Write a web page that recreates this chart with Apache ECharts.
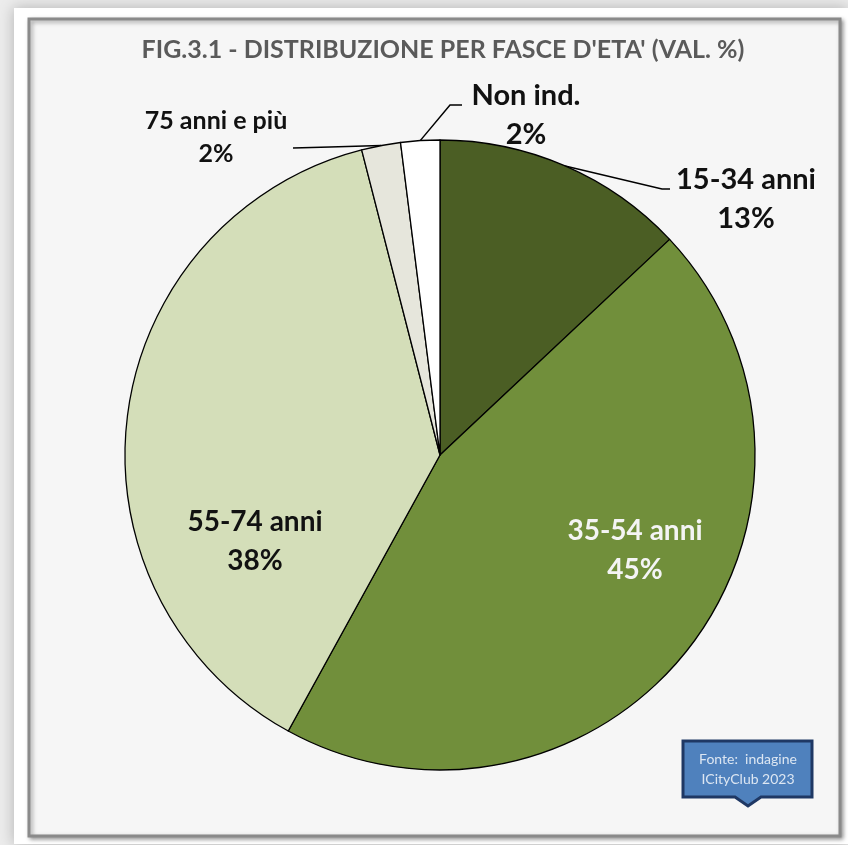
<!DOCTYPE html>
<html>
<head>
<meta charset="utf-8">
<script src="https://cdn.jsdelivr.net/npm/echarts@6/dist/echarts.min.js"></script>
<style>
html,body{margin:0;padding:0;background:#ececec;}
#chart{width:848px;height:845px;}
</style>
</head>
<body>
<div id="chart"></div>
<script>
// ---- data ----
const titleText = "FIG.3.1 - DISTRIBUZIONE PER FASCE D'ETA' (VAL. %)";
const categories = ['15-34 anni', '35-54 anni', '55-74 anni', '75 anni e più', 'Non ind.'];
const shares = [13, 45, 38, 2, 2];
const sourceLines = ['Fonte:  indagine', 'ICityClub 2023'];

// ---- styles / layout ----
const sliceColors = ['#4b5e24', '#718f3b', '#d4deb9', '#e6e6dc', '#ffffff'];
const CX = 440, CY = 455, R = 315;
const FONT = 'Lato, "Open Sans", sans-serif';
// label block centres & leader-line bends, as offsets from pie centre
const labelSpots = [
  { x: 306, y: -256, line: [[222, -266], [230, -266]], color: '#111', size: 29, lh: 39 },
  { x: 195, y: 95, line: null, color: '#f4f4f4', size: 28, lh: 39 },
  { x: -185, y: 86, line: null, color: '#111', size: 28, lh: 39 },
  { x: -224, y: -318, line: [[-110, -308], [-147, -307]], color: '#111', size: 25, lh: 33 },
  { x: 86, y: -340, line: [[10, -350], [22, -350]], color: '#111', size: 29, lh: 39 }
];

const total = shares.reduce((a, b) => a + b, 0);
function midEdge(i) {
  let cum = 0;
  for (let k = 0; k < i; k++) cum += shares[k];
  const a = (cum + shares[i] / 2) / total * 2 * Math.PI;
  return [CX + R * Math.sin(a), CY - R * Math.cos(a)];
}

const chart = echarts.init(document.getElementById('chart'));
const seriesData = categories.map((name, i) => ({
  name: name,
  value: shares[i],
  itemStyle: { color: sliceColors[i] },
  label: {
    position: labelSpots[i].line ? 'outside' : 'inside',
    color: labelSpots[i].color,
    fontSize: labelSpots[i].size,
    lineHeight: labelSpots[i].lh
  },
  labelLine: { show: !!labelSpots[i].line }
}));

const option = {
  backgroundColor: '#ececec',
  animation: false,
  graphic: [
    { type: 'rect', z: -10, shape: { x: 14, y: 8, width: 834, height: 836 },
      style: { fill: '#ffffff', shadowBlur: 14, shadowColor: 'rgba(0,0,0,0.25)' } },
    { type: 'rect', z: -9, shape: { x: 29, y: 19, width: 811, height: 817 },
      style: { fill: '#f6f6f6', stroke: '#8a8a8a', lineWidth: 3, shadowBlur: 4, shadowOffsetX: 2, shadowOffsetY: 2, shadowColor: 'rgba(0,0,0,0.35)' } },
    { type: 'polygon', z: 10,
      shape: { points: [[683, 741], [812, 741], [812, 797], [761, 797], [748, 806], [735, 797], [683, 797]] },
      style: { fill: '#4f81bd', stroke: '#1f3864', lineWidth: 3 } },
    { type: 'text', z: 11, x: 748, y: 769,
      style: { text: sourceLines.join('\n'), fill: '#dce6f2', font: '14px ' + FONT, align: 'center', verticalAlign: 'middle', lineHeight: 20 } }
  ],
  title: {
    text: titleText,
    left: 438,
    textAlign: 'center',
    top: 32,
    textStyle: { fontFamily: FONT, fontWeight: 'bold', fontSize: 25, color: '#5a5a5a' }
  },
  series: [{
    type: 'pie',
    center: [CX, CY],
    radius: R,
    startAngle: 90,
    clockwise: true,
    silent: true,
    itemStyle: { borderColor: '#000', borderWidth: 1.3 },
    label: {
      show: true,
      formatter: '{b}\n{c}%',
      fontFamily: FONT,
      fontWeight: 'bold'
    },
    labelLine: { lineStyle: { color: '#000', width: 1.5 }, smooth: false },
    labelLayout: function (params) {
      const i = params.dataIndex;
      const s = labelSpots[i];
      const res = { x: CX + s.x, y: CY + s.y, align: 'center', verticalAlign: 'middle' };
      if (s.line) {
        res.labelLinePoints = [midEdge(i), [CX + s.line[0][0], CY + s.line[0][1]], [CX + s.line[1][0], CY + s.line[1][1]]];
      }
      return res;
    },
    data: seriesData
  }]
};
chart.setOption(option);
</script>
</body>
</html>
